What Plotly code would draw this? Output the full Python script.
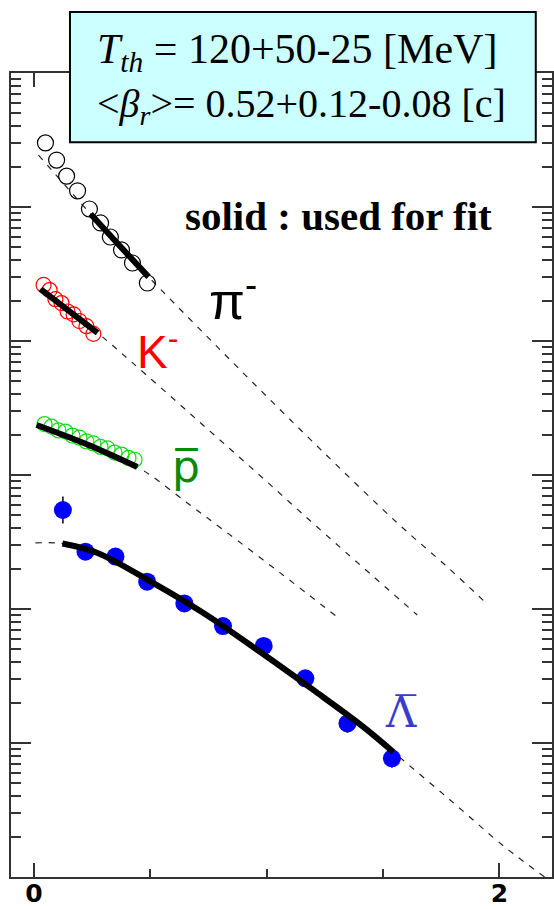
import plotly.graph_objects as go

# Transverse-mass spectra (mT - m in GeV/c^2) with blast-wave fit curves

# pi-
pi_mt = [0.049, 0.097, 0.140, 0.187, 0.238, 0.286, 0.328, 0.376, 0.423, 0.487]
pi_yield = [3.01, 2.24, 1.70, 1.32, 0.966, 0.760, 0.597, 0.478, 0.382, 0.271]
pi_model_mt = [0.019, 0.243, 0.367, 0.492, 0.728, 0.942, 1.230, 1.561, 1.776, 1.947]
pi_model = [2.44, 0.887, 0.516, 0.301, 0.115, 0.0486, 0.0156, 0.00439, 0.00206, 0.00109]
pi_fit_range = (0.243, 0.492)

# K-
k_mt = [0.041, 0.067, 0.092, 0.118, 0.144, 0.170, 0.195, 0.225, 0.255]
k_yield = [0.262, 0.240, 0.205, 0.192, 0.166, 0.158, 0.141, 0.129, 0.113]
k_model_mt = [0.028, 0.273, 0.414, 0.702, 0.973, 1.217, 1.647]
k_model = [0.244, 0.115, 0.0710, 0.0257, 0.00984, 0.00409, 0.000902]
k_fit_range = (0.028, 0.273)

# anti-proton
p_mt = [0.045, 0.075, 0.105, 0.135, 0.165, 0.195, 0.225, 0.255, 0.286, 0.316,
        0.346, 0.376, 0.406, 0.432]
p_yield = [0.0240, 0.0230, 0.0215, 0.0211, 0.0197, 0.0190, 0.0178, 0.0172, 0.0162,
           0.0158, 0.0147, 0.0142, 0.0134, 0.0130]
p_model_mt = [0.011, 0.234, 0.444, 0.505, 0.659, 0.814, 1.058, 1.303]
p_model = [0.0236, 0.01675, 0.01148, 0.00984, 0.00618, 0.00389, 0.00186, 0.000871]
p_fit_range = (0.011, 0.444)

# anti-Lambda
lam_mt = [0.124, 0.221, 0.350, 0.486, 0.646, 0.812, 0.987, 1.166, 1.347, 1.538]
lam_yield = [0.00548, 0.00268, 0.00246, 0.00160, 0.00110, 0.000746, 0.000530,
             0.000304, 0.000140, 0.0000769]
lam_err_dex = [0.10, 0.06, 0.05, 0.05, 0.05, 0.05, 0.05, 0.06, 0.07, 0.07]
lam_model_mt = [0.006, 0.122, 0.273, 0.513, 0.728, 0.960, 1.200, 1.415, 1.544,
                1.788, 2.024, 2.200]
lam_model = [0.00311, 0.00308, 0.00262, 0.00156, 0.000933, 0.000494, 0.000249,
             0.000132, 0.0000857, 0.0000376, 0.0000167, 0.00000984]
lam_fit_range = (0.122, 1.544)

x_ticks = [0, 2]
x_tick_text = ["0", "2"]
x_minor = [0.5, 1.0, 1.5]
y_decades = list(range(-5, 2))

fig = go.Figure()


def in_range(xs, ys, rng):
    pts = [(a, b) for a, b in zip(xs, ys) if rng[0] <= a <= rng[1]]
    return [a for a, _ in pts], [b for _, b in pts]


dash_line = dict(color="#222222", width=1.2, dash="6px,7px")
for mx, my in [(pi_model_mt, pi_model), (k_model_mt, k_model),
               (p_model_mt, p_model), (lam_model_mt, lam_model)]:
    fig.add_trace(go.Scatter(x=mx, y=my, mode="lines", line=dash_line,
                             line_shape="spline", hoverinfo="skip"))

# measured points
fig.add_trace(go.Scatter(x=pi_mt, y=pi_yield, mode="markers",
                         marker=dict(symbol="circle-open", size=16, color="black",
                                     line=dict(width=1.2))))
fig.add_trace(go.Scatter(x=k_mt, y=k_yield, mode="markers",
                         marker=dict(symbol="circle-open", size=15, color="#ff0000",
                                     line=dict(width=1.2))))
fig.add_trace(go.Scatter(x=p_mt, y=p_yield, mode="markers",
                         marker=dict(symbol="circle-open", size=15, color="#11dd11",
                                     line=dict(width=1.2))))
lam_hi = [y * (10 ** d - 1) for y, d in zip(lam_yield, lam_err_dex)]
lam_lo = [y * (1 - 10 ** -d) for y, d in zip(lam_yield, lam_err_dex)]
fig.add_trace(go.Scatter(x=lam_mt, y=lam_yield, mode="markers",
                         marker=dict(symbol="circle", size=18, color="#0000ff"),
                         error_y=dict(type="data", array=lam_hi, arrayminus=lam_lo,
                                      color="black", thickness=1.5, width=0)))

# fitted ranges drawn solid
for mx, my, rng in [(pi_model_mt, pi_model, pi_fit_range),
                    (k_model_mt, k_model, k_fit_range),
                    (p_model_mt, p_model, p_fit_range),
                    (lam_model_mt, lam_model, lam_fit_range)]:
    fx, fy = in_range(mx, my, rng)
    fig.add_trace(go.Scatter(x=fx, y=fy, mode="lines", line_shape="spline",
                             line=dict(color="black", width=6), hoverinfo="skip"))

y_minor = [m * 10 ** e for e in y_decades[:-1] for m in range(2, 10)]

fig.update_layout(
    width=554, height=909,
    margin=dict(l=11, r=2, t=73, b=32),
    paper_bgcolor="white", plot_bgcolor="white",
    showlegend=False,
    xaxis=dict(range=[-0.099, 2.226], showgrid=False, zeroline=False, automargin=False,
               showline=True, linecolor="#333333", linewidth=2, mirror="ticks",
               ticks="inside", ticklen=14, tickwidth=2, tickcolor="#333333",
               tickvals=x_ticks, ticktext=x_tick_text, ticklabelstandoff=-7,
               tickfont=dict(family="DejaVu Sans", size=25, color="black", weight="bold"),
               minor=dict(tickvals=x_minor, ticks="inside", ticklen=8, tickwidth=2,
                          tickcolor="#333333")),
    yaxis=dict(type="log", range=[-5, 1], showgrid=False, zeroline=False, automargin=False,
               showline=True, linecolor="#333333", linewidth=2, mirror="ticks",
               ticks="inside", ticklen=20, tickwidth=2, tickcolor="#333333",
               tickvals=[10 ** e for e in y_decades], showticklabels=False,
               minor=dict(tickvals=y_minor, ticks="inside", ticklen=10, tickwidth=2,
                          tickcolor="#333333")),
)

# parameter box
fig.add_shape(type="rect", xref="paper", yref="paper", x0=0.109, x1=0.970,
              y0=0.914, y1=1.076, fillcolor="#ccffff",
              line=dict(color="black", width=2), layer="above")

serif = "Liberation Serif, Times New Roman, serif"
sans = "Liberation Sans, Arial, sans-serif"
fig.add_annotation(xref="paper", yref="paper", x=0.155, y=1.026, xanchor="left",
                   yanchor="middle", showarrow=False,
                   text="<i>T</i><sub><i>th</i></sub> = 120+50-25 [MeV]",
                   font=dict(family=serif, size=42, color="black"))
fig.add_annotation(xref="paper", yref="paper", x=0.155, y=0.959, xanchor="left",
                   yanchor="middle", showarrow=False,
                   text="&lt;<i>β</i><sub><i>r</i></sub>&gt;= 0.52+0.12-0.08 [c]",
                   font=dict(family=serif, size=40, color="black"))
fig.add_annotation(xref="paper", yref="paper", x=0.318, y=0.822, xanchor="left",
                   yanchor="middle", showarrow=False,
                   text="<b>solid : used for fit</b>",
                   font=dict(family=serif, size=41, color="black"))

# species labels
fig.add_annotation(xref="paper", yref="paper", x=0.362, y=0.721, xanchor="left",
                   yanchor="middle", showarrow=False, text="π<sup>-</sup>",
                   font=dict(family=sans, size=52, color="black"))
fig.add_annotation(xref="paper", yref="paper", x=0.229, y=0.657, xanchor="left",
                   yanchor="middle", showarrow=False, text="K<sup>-</sup>",
                   font=dict(family=sans, size=46, color="#ff0000"))
fig.add_annotation(xref="paper", yref="paper", x=0.294, y=0.511, xanchor="left",
                   yanchor="middle", showarrow=False, text="p\u0305",
                   font=dict(family="DejaVu Sans, Liberation Sans, sans-serif", size=44,
                             color="#0a8a0a"))
fig.add_annotation(xref="paper", yref="paper", x=0.688, y=0.205, xanchor="left",
                   yanchor="middle", showarrow=False, text="\u039b\u0305",
                   font=dict(family="DejaVu Serif, serif", size=42, color="#3a3acf"))

fig.write_html("out.html")
